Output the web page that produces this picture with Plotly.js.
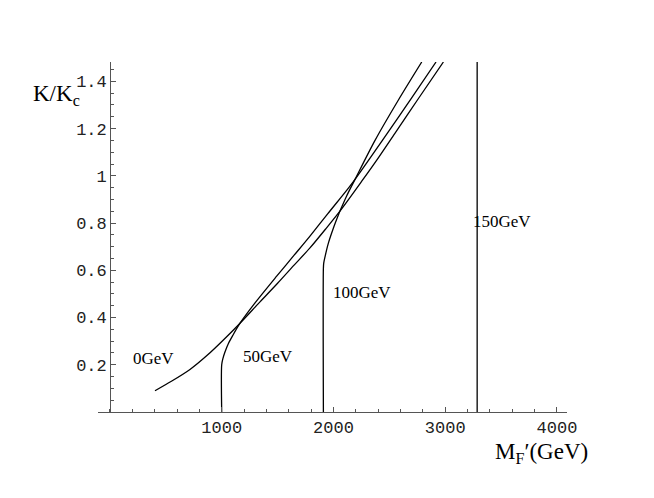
<!DOCTYPE html>
<html>
<head>
<meta charset="utf-8">
<script src="https://cdn.plot.ly/plotly-3.0.1.min.js"></script>
<style>
  html, body { margin: 0; padding: 0; background: #fff; }
  #chart { width: 654px; height: 498px; }
</style>
</head>
<body>
<div id="chart"></div>
<script>
// curves: M_F' in GeV, K/Kc
const mh0_x = [403, 550, 716, 870, 1015, 1164, 1330, 1500, 1650, 1790, 1930, 2065, 2250, 2400, 2550, 2750, 2984];
const mh0_y = [0.09, 0.13, 0.18, 0.24, 0.305, 0.376, 0.46, 0.545, 0.623, 0.695, 0.775, 0.855, 0.975, 1.075, 1.18, 1.32, 1.482];

const mh50_x = [1000, 1000, 1010, 1030, 1060, 1100, 1164, 1300, 1492, 1650, 1790, 1950, 2134, 2193, 2435, 2700, 2918];
const mh50_y = [0, 0.2, 0.225, 0.255, 0.29, 0.325, 0.376, 0.463, 0.575, 0.665, 0.745, 0.84, 0.948, 0.985, 1.148, 1.33, 1.482];

const mh100_x = [1910, 1910, 1913, 1925, 1954, 1999, 2044, 2065, 2118, 2193, 2372, 2580, 2790];
const mh100_y = [0, 0.609, 0.63, 0.658, 0.714, 0.778, 0.834, 0.858, 0.915, 0.985, 1.15, 1.32, 1.482];

const mh150_x = [3286, 3286];
const mh150_y = [0, 1.482];

const curve_names = ["0GeV", "50GeV", "100GeV", "150GeV"];
// where each curve label sits (data coords)
const label_x = [394, 1414, 2256, 3509];
const label_y = [0.228, 0.236, 0.504, 0.805];

const x_ticks = [1000, 2000, 3000, 4000];
const y_ticks = [0.2, 0.4, 0.6, 0.8, 1, 1.2, 1.4];
const y_ticktext = ["0.2", "0.4", "0.6", "0.8", "1", "1.2", "1.4"];

const x_range = [-107, 4090];
const y_range = [0, 1.482];

function line(xs, ys, shape) {
  return {
    x: xs, y: ys, type: 'scatter', mode: 'lines',
    line: {color: '#000', width: 1.3, shape: shape, smoothing: 0.8},
    hoverinfo: 'skip', showlegend: false
  };
}

const data = [
  line(mh0_x, mh0_y, 'spline'),
  line(mh50_x, mh50_y, 'spline'),
  line(mh100_x, mh100_y, 'spline'),
  line(mh150_x, mh150_y, 'linear')
];

const serif = 'Liberation Serif, Times New Roman, serif';
const mono = 'Liberation Mono, Courier New, monospace';

const annotations = curve_names.map((name, i) => ({
  x: label_x[i], y: label_y[i], xref: 'x', yref: 'y',
  text: name, showarrow: false,
  font: {family: serif, size: 17, color: '#000'}
}));

annotations.push({
  xref: 'paper', yref: 'paper', x: -0.143, y: 0.905,
  xanchor: 'left', yanchor: 'middle', showarrow: false,
  text: 'K/K<sub>c</sub>',
  font: {family: serif, size: 23, color: '#000'}
});
annotations.push({
  xref: 'paper', yref: 'paper', x: 0.843, y: -0.116,
  xanchor: 'left', yanchor: 'middle', showarrow: false,
  text: 'M<sub>F</sub>\u2032(GeV)',
  font: {family: serif, size: 23, color: '#000'}
});

const layout = {
  width: 654, height: 498,
  margin: {l: 98, r: 87, t: 62, b: 86},
  paper_bgcolor: '#fff', plot_bgcolor: '#fff',
  showlegend: false,
  xaxis: {
    range: x_range, showgrid: false, zeroline: false,
    showline: true, linecolor: '#555', linewidth: 1,
    tickmode: 'array', tickvals: x_ticks,
    ticks: 'inside', ticklen: 5, tickcolor: '#555',
    tickfont: {family: mono, size: 17, color: '#222'},
    minor: {dtick: 200, tick0: 0, ticks: 'inside', ticklen: 3, tickcolor: '#555', showgrid: false}
  },
  yaxis: {
    range: y_range, showgrid: false, zeroline: false,
    anchor: 'free', position: 109 / 4197,
    showline: true, linecolor: '#555', linewidth: 1,
    tickmode: 'array', tickvals: y_ticks, ticktext: y_ticktext,
    ticks: 'inside', ticklen: 5, tickcolor: '#555',
    tickfont: {family: mono, size: 17, color: '#222'},
    minor: {dtick: 0.05, tick0: 0, ticks: 'inside', ticklen: 3, tickcolor: '#555', showgrid: false}
  },
  annotations: annotations
};

Plotly.newPlot('chart', data, layout, {staticPlot: true, displayModeBar: false});
</script>
</body>
</html>
